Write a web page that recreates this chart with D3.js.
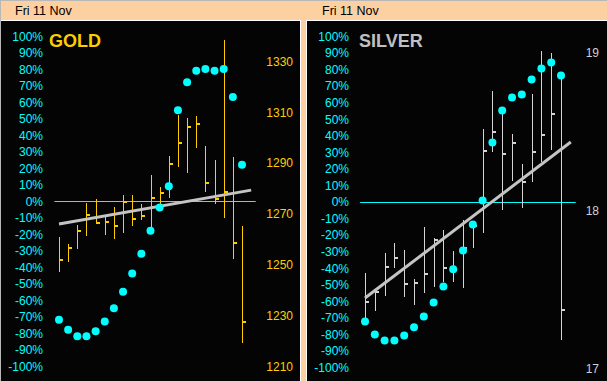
<!DOCTYPE html>
<html><head><meta charset="utf-8">
<script src="https://cdn.jsdelivr.net/npm/d3@7"></script>
<style>html,body{margin:0;padding:0;background:#FCD0A0;overflow:hidden}svg{display:block}</style>
</head><body><svg id="c" width="607" height="381"></svg>
<script>
// ---- data ----
const headerText = "Fri 11 Nov";
const pctTicks = [100,90,80,70,60,50,40,30,20,10,0,-10,-20,-30,-40,-50,-60,-70,-80,-90,-100];
const goldTitle = "GOLD";
const silverTitle = "SILVER";
const goldPriceTicks = [1330,1310,1290,1270,1250,1230,1210];
const silverPriceTicks = [19,18,17];

const goldPct   = [-72,-78,-82,-82,-79,-73,-65,-55,-44,-32,-18,-4,9,55,72,79,80,79,80,63,22];
const goldHigh  = [1260.7,1258.0,1265.5,1274.1,1275.7,1268.6,1272.5,1277.3,1277.3,1273.7,1285.1,1280.4,1292.6,1308.7,1307.6,1308.3,1296.5,1291.0,1338.2,1292.2,1265.1];
const goldLow   = [1247.0,1250.9,1256.0,1261.1,1265.9,1261.5,1260.0,1262.3,1265.1,1267.4,1262.3,1272.2,1276.1,1288.3,1285.9,1295.8,1278.4,1273.7,1268.2,1252.1,1219.0];
const goldClose = [1251.7,1256.4,1263.1,1269.5,1266.3,1266.6,1265.1,1274.5,1267.9,1269.0,1276.1,1278.1,1289.5,1297.7,1304.0,1305.2,1282.0,1275.7,1278.4,1258.4,1227.3];
const goldTrend = [1265.9,1279.2];

const silverPct   = [-72.5,-80.4,-84,-84,-81,-76,-69.5,-61,-51.4,-41,-29.6,-13.9,0.6,35.6,55,62.8,64.7,73.7,80.4,84,76.1];
const silverHigh  = [17.601,17.487,17.728,17.791,17.747,17.563,17.892,17.823,17.873,17.741,17.937,17.905,18.513,18.753,18.652,18.481,18.291,18.734,19.006,18.994,18.848];
const silverLow   = [17.304,17.361,17.456,17.633,17.449,17.399,17.475,17.513,17.544,17.544,17.506,17.759,17.854,18.367,18.000,18.184,18.013,18.177,18.304,18.380,17.177];
const silverClose = [17.418,17.481,17.639,17.696,17.532,17.538,17.595,17.810,17.633,17.620,17.759,17.899,18.373,18.494,18.354,18.424,18.177,18.367,18.475,18.608,17.367];
const silverTrend = [17.443,18.430];

// ---- drawing ----
const svg = d3.select("#c");
const FONT = "'Liberation Sans', Arial, sans-serif";
const CYAN = "#00FFFF";

// outer frame
svg.append("rect").attr("x",0).attr("y",0).attr("width",607).attr("height",381).attr("fill","#FCD0A0");
svg.append("line").attr("x1",0).attr("x2",607).attr("y1",0.5).attr("y2",0.5).attr("stroke","#B8B8B8");
svg.append("line").attr("x1",0.5).attr("x2",0.5).attr("y1",0).attr("y2",381).attr("stroke","#B8B8B8");

function panel(cfg){
  const g = svg.append("g");
  // black panel
  g.append("rect").attr("x",cfg.px).attr("y",20).attr("width",cfg.pw).attr("height",361).attr("fill","#040404");
  g.append("line").attr("x1",cfg.px).attr("x2",cfg.px+cfg.pw).attr("y1",20.5).attr("y2",20.5).attr("stroke","#FFFFFF");
  g.append("line").attr("x1",cfg.borderX+0.5).attr("x2",cfg.borderX+0.5).attr("y1",20).attr("y2",381).attr("stroke","#FFFFFF");
  // header
  svg.append("text").attr("x",cfg.hx).attr("y",14.5).attr("font-family",FONT).attr("font-size",12.5)
    .attr("fill","#000").text(headerText);

  const n = cfg.pct.length;
  const x = d3.scaleLinear().domain([0,n-1]).range(cfg.xr);
  const yP = d3.scaleLinear().domain([-100,100]).range(cfg.pr);
  const yV = d3.scaleLinear().domain(cfg.vd).range(cfg.vr);

  // percent axis
  const pAxis = d3.axisLeft(yP).tickValues(pctTicks).tickSize(0).tickPadding(0).tickFormat(d=>d+"%");
  const ga = g.append("g").attr("transform",`translate(${cfg.pax},0)`).call(pAxis);
  ga.select(".domain").remove();
  ga.selectAll("text").attr("fill",CYAN).attr("font-family",FONT).attr("font-size",12).attr("dy","0.36em");

  // price axis
  const vAxis = d3.axisRight(yV).tickValues(cfg.vticks).tickSize(0).tickPadding(0).tickFormat(d=>d);
  const gv = g.append("g").attr("transform",`translate(${cfg.vax},0)`).call(vAxis);
  gv.select(".domain").remove();
  gv.selectAll("text").attr("fill",cfg.vcol).attr("font-family",FONT).attr("font-size",12)
    .attr("dy","0.36em").attr("text-anchor","end");

  // title
  g.append("text").attr("x",cfg.tx).attr("y",47).attr("font-family",FONT).attr("font-weight","bold")
    .attr("font-size",18).attr("fill",cfg.tcol).text(cfg.title);

  // zero line
  g.append("line").attr("x1",x(-0.5)).attr("x2",x(n-1+1.5))
    .attr("y1",Math.round(yP(0))+0.5).attr("y2",Math.round(yP(0))+0.5)
    .attr("stroke",CYAN).attr("stroke-width",1);

  // bars
  const idx = d3.range(n);
  const bars = g.append("g");
  bars.selectAll("line").data(idx).join("line")
    .attr("x1",i=>Math.round(x(i))+0.5).attr("x2",i=>Math.round(x(i))+0.5)
    .attr("y1",i=>yV(cfg.high[i])).attr("y2",i=>yV(cfg.low[i]))
    .attr("stroke",cfg.bcol).attr("stroke-width",1).attr("shape-rendering","crispEdges");
  bars.selectAll("rect").data(idx).join("rect")
    .attr("x",i=>Math.round(x(i))+1).attr("y",i=>Math.round(yV(cfg.close[i]))-1)
    .attr("width",3).attr("height",2).attr("fill",cfg.bcol).attr("shape-rendering","crispEdges");

  // regression line
  g.append("line").attr("x1",x(0)).attr("x2",x(n))
    .attr("y1",yV(cfg.trend[0])).attr("y2",yV(cfg.trend[1]))
    .attr("stroke","#C4C4C4").attr("stroke-width",3);

  // dots
  g.append("g").selectAll("circle").data(idx).join("circle")
    .attr("cx",i=>x(i)).attr("cy",i=>yP(cfg.pct[i])).attr("r",4).attr("fill",CYAN);
}

panel({px:1,pw:300,borderX:300,hx:15,xr:[59,242],pr:[366,36],vd:[1210,1330],vr:[366,61],
  pax:43,vax:293,vticks:goldPriceTicks,vcol:"#FFCC00",tx:49,title:goldTitle,tcol:"#FFCC00",
  pct:goldPct,high:goldHigh,low:goldLow,close:goldClose,trend:goldTrend,bcol:"#FFCC00"});

panel({px:306,pw:301,borderX:306,hx:322,xr:[365,561],pr:[367,36],vd:[17,19],vr:[368,52],
  pax:349,vax:599,vticks:silverPriceTicks,vcol:"#D0D0D0",tx:359,title:silverTitle,tcol:"#C0C0C0",
  pct:silverPct,high:silverHigh,low:silverLow,close:silverClose,trend:silverTrend,bcol:"#D4D4D4"});
</script>
</body></html>
